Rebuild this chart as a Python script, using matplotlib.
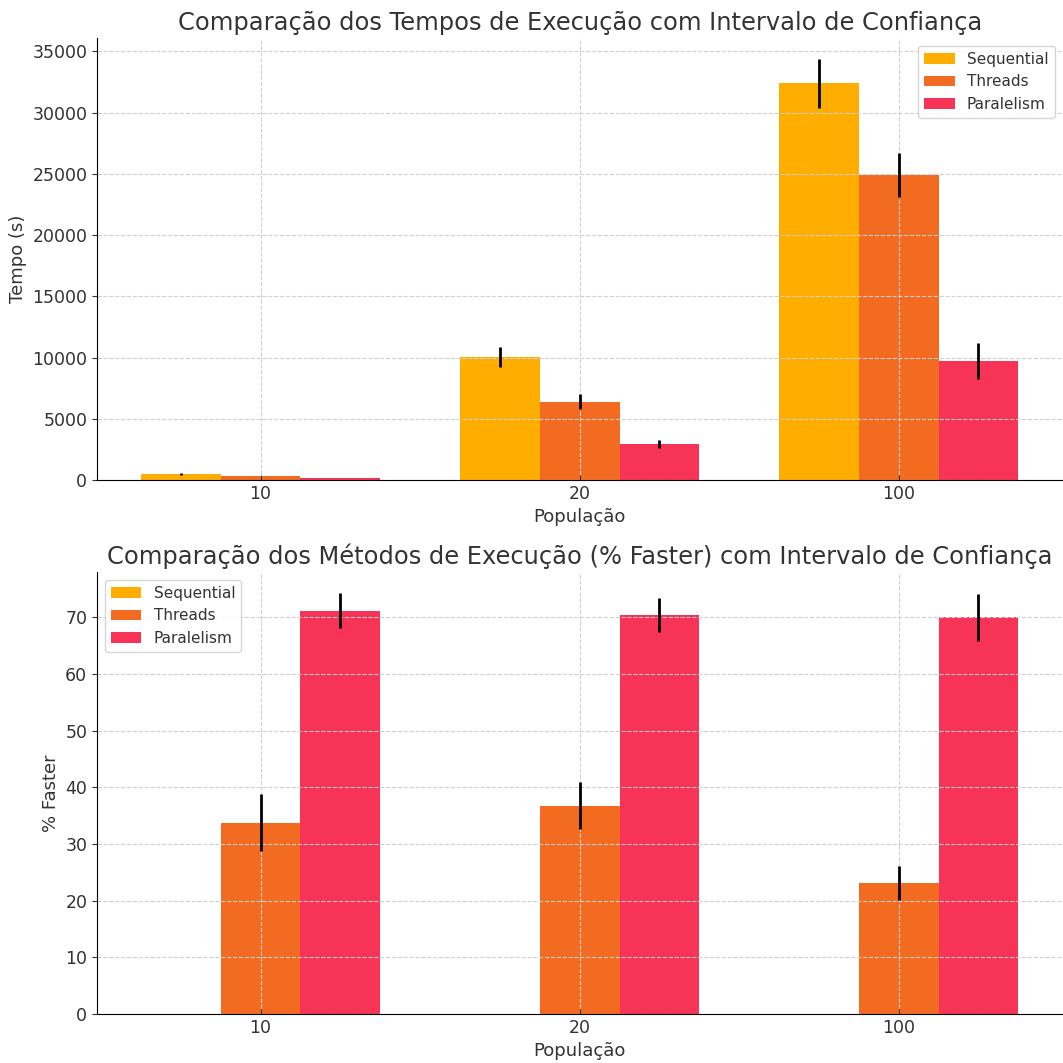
import matplotlib
matplotlib.use('Agg')
import matplotlib.pyplot as plt
import numpy as np

populacoes = ['10', '20', '100']
metodos = ['Sequential', 'Threads', 'Paralelism']
cores = ['#FFAE00', '#F26B21', '#F73357']

# tempos medios (s) e meia largura do intervalo de confianca
tempo_seq = [490, 10050, 32380]
tempo_thr = [330, 6380, 24880]
tempo_par = [150, 2940, 9730]
ic_seq = [60, 800, 2000]
ic_thr = [40, 610, 1800]
ic_par = [20, 310, 1500]

# % mais rapido em relacao ao sequencial
faster_seq = [0, 0, 0]
faster_thr = [33.8, 36.8, 23.2]
faster_par = [71.2, 70.5, 70.0]
ic_fseq = [0, 0, 0]
ic_fthr = [5.0, 4.1, 3.0]
ic_fpar = [3.1, 3.0, 4.1]

texto = '#333333'
plt.rcParams['text.color'] = texto
plt.rcParams['axes.labelcolor'] = texto
plt.rcParams['xtick.color'] = texto
plt.rcParams['ytick.color'] = texto

fig = plt.figure(figsize=(10.63, 10.63), dpi=100)
ax1 = fig.add_axes([0.0913, 0.5484, 0.908, 0.4159])
ax2 = fig.add_axes([0.0913, 0.0461, 0.908, 0.4158])

x = np.arange(len(populacoes))
w = 0.25


def desenha(ax, series, erros, titulo, ylabel, loc):
    for i, (vals, errs) in enumerate(zip(series, erros)):
        ax.bar(x + (i - 1) * w, vals, w, yerr=errs, color=cores[i], label=metodos[i],
               error_kw=dict(ecolor='black', elinewidth=2, capsize=0))
    ax.set_xticks(x)
    ax.set_xticklabels(populacoes)
    ax.set_title(titulo, fontsize=17.4, color=texto)
    ax.set_xlabel('População', fontsize=13)
    ax.set_ylabel(ylabel, fontsize=13)
    ax.tick_params(axis='both', labelsize=12.5)
    ax.tick_params(axis='x', direction='in')
    ax.grid(True, linestyle='--', color='#d0d0d0', linewidth=0.8)
    ax.spines['top'].set_visible(False)
    ax.spines['right'].set_visible(False)
    ax.legend(loc=loc, fontsize=11, edgecolor='#cccccc')


desenha(ax1, [tempo_seq, tempo_thr, tempo_par], [ic_seq, ic_thr, ic_par],
        'Comparação dos Tempos de Execução com Intervalo de Confiança', 'Tempo (s)', 'upper right')
desenha(ax2, [faster_seq, faster_thr, faster_par], [ic_fseq, ic_fthr, ic_fpar],
        'Comparação dos Métodos de Execução (% Faster) com Intervalo de Confiança', '% Faster', 'upper left')

fig.savefig('out.png', dpi=100)
